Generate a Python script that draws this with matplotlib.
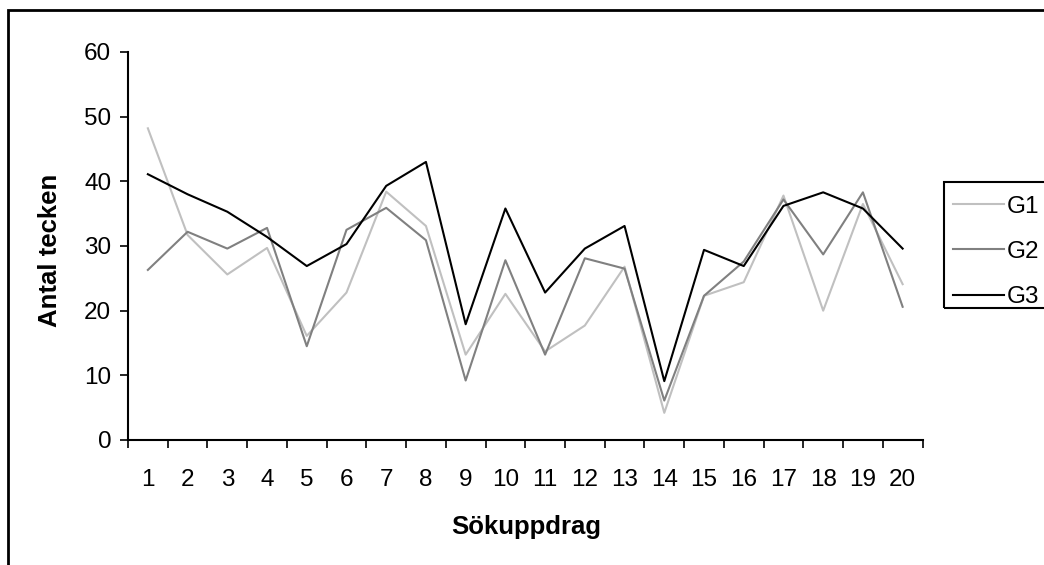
import matplotlib
matplotlib.use("Agg")
import matplotlib.pyplot as plt
from matplotlib.patches import Rectangle

plt.rcParams['font.family'] = ['Liberation Sans', 'DejaVu Sans']

# Sökuppdrag 1..20, antal tecken per grupp
uppdrag = list(range(1, 21))
g1 = [48.2, 31.7, 25.6, 29.7, 16.1, 22.8, 38.4, 33.1, 13.2, 22.6,
      13.7, 17.7, 26.8, 4.2, 22.3, 24.4, 37.8, 20.0, 36.5, 24.1]
g2 = [26.3, 32.2, 29.6, 32.8, 14.5, 32.5, 35.9, 30.9, 9.2, 27.8,
      13.2, 28.1, 26.5, 6.1, 22.3, 27.6, 37.2, 28.7, 38.3, 20.6]
g3 = [41.1, 38.0, 35.3, 31.4, 26.9, 30.3, 39.3, 43.0, 17.9, 35.8,
      22.8, 29.6, 33.1, 9.1, 29.4, 26.9, 36.2, 38.3, 35.8, 29.6]
serier = ['G1', 'G2', 'G3']
farger = ['#c0c0c0', '#808080', '#000000']
yticks = [0, 10, 20, 30, 40, 50, 60]

W, H = 1044, 565
fs = 17.5
fig = plt.figure(figsize=(W / 100, H / 100), dpi=100)
ax = fig.add_axes([128 / W, (H - 440) / H, (922.5 - 128) / W, (440 - 52) / H])

for data, namn, c in zip([g1, g2, g3], serier, farger):
    ax.plot(uppdrag, data, color=c, lw=1.5, label=namn)

ax.set_xlim(0.5, 20.5)
ax.set_ylim(0, 60)
ax.set_yticks(yticks)
ax.set_xticks([i + 0.5 for i in range(0, 21)])
ax.set_xticklabels([])
ax.set_xticks(uppdrag, minor=True)
ax.set_xticklabels([str(u) for u in uppdrag], minor=True)
ax.tick_params(axis='x', which='major', direction='out', length=6, width=1.2)
ax.tick_params(axis='x', which='minor', length=0, pad=21, labelsize=fs)
ax.tick_params(axis='y', direction='out', length=6, width=1.2, pad=6, labelsize=fs)
for s in ['top', 'right']:
    ax.spines[s].set_visible(False)
for s in ['left', 'bottom']:
    ax.spines[s].set_linewidth(1.5)

fig.text(50 / W, 1 - 250 / H, 'Antal tecken', rotation=90, ha='center', va='center',
         fontsize=18.5, fontweight='bold')
fig.text(526 / W, 1 - 527 / H, 'Sökuppdrag', ha='center', va='center',
         fontsize=18.5, fontweight='bold')

# legend box (cut off at right edge)
fig.add_artist(Rectangle((944 / W, 1 - 308 / H), 0.2, 126 / H, transform=fig.transFigure,
                         fill=False, ec='black', lw=1.5))
fig.legend(loc='center left', bbox_to_anchor=(953 / W, 1 - 252 / H), frameon=False,
           fontsize=fs, borderpad=0, borderaxespad=0, handlelength=2.1,
           handletextpad=0.1, labelspacing=0.95)

# outer chart border
fig.add_artist(Rectangle((8 / W, -0.1), 1.2, 1.1 - 10 / H, transform=fig.transFigure,
                         fill=False, ec='black', lw=2))

fig.savefig('out.png', dpi=100)
